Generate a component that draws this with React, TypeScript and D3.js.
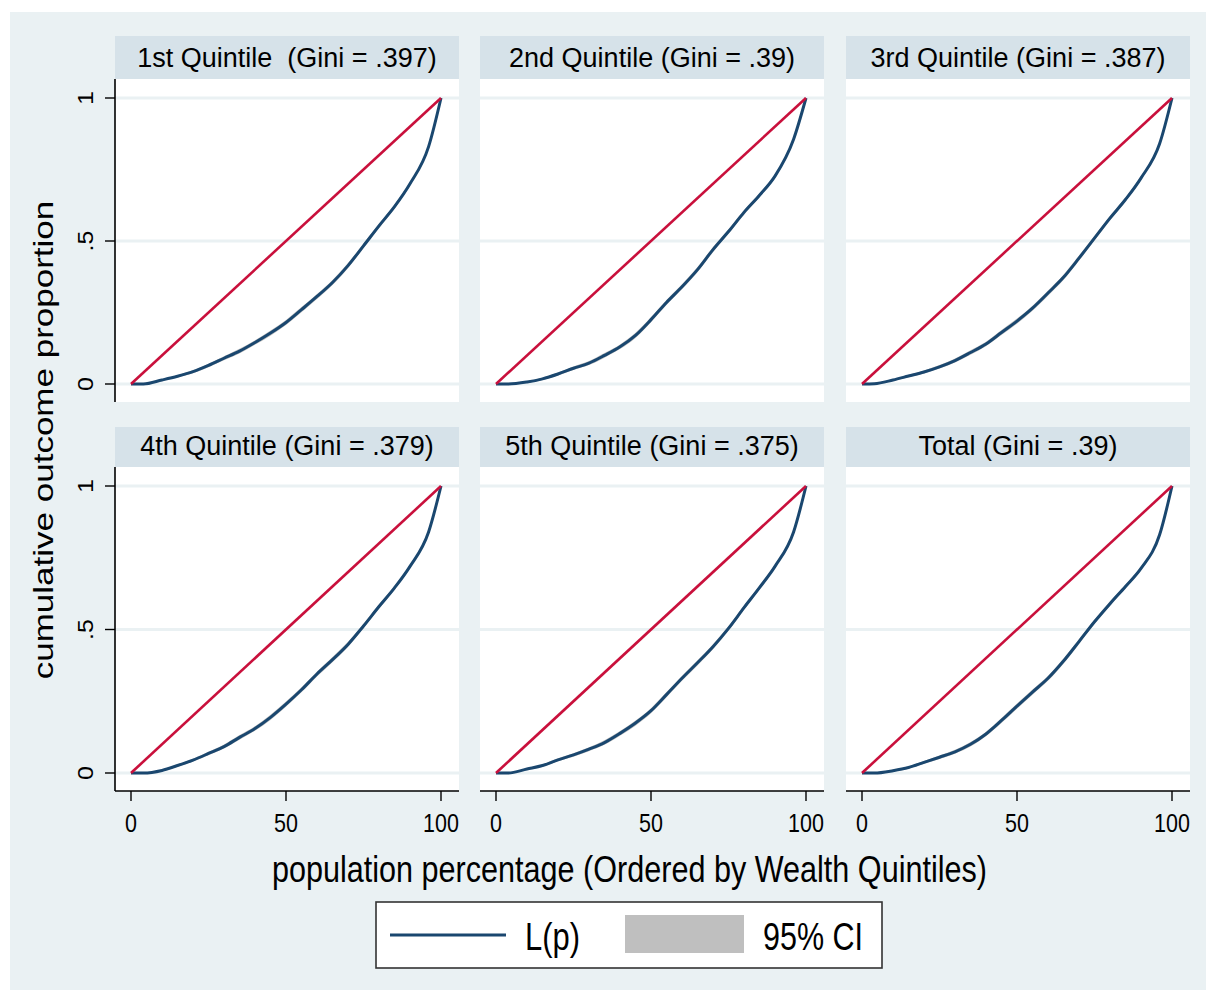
import React from 'react';
import * as d3 from 'd3';

// population percentage grid shared by every panel
const pGrid = [0, 4, 10, 15, 20, 25, 30, 35, 40, 45, 50, 55, 60, 65, 70, 75, 80, 85, 90, 96, 100];

// L(p)
const lorenzQ1 = [0, 0, 0.014, 0.027, 0.043, 0.065, 0.09, 0.115, 0.145, 0.178, 0.215, 0.26, 0.306, 0.355, 0.414, 0.483, 0.553, 0.62, 0.7, 0.83, 1];
const lorenzQ2 = [0, 0, 0.007, 0.018, 0.035, 0.055, 0.073, 0.1, 0.13, 0.17, 0.225, 0.285, 0.34, 0.4, 0.47, 0.533, 0.6, 0.66, 0.727, 0.856, 1];
const lorenzQ3 = [0, 0.001, 0.014, 0.028, 0.042, 0.06, 0.082, 0.11, 0.14, 0.18, 0.22, 0.265, 0.318, 0.373, 0.44, 0.51, 0.58, 0.645, 0.72, 0.84, 1];
const lorenzQ4 = [0, 0, 0.009, 0.026, 0.045, 0.068, 0.092, 0.124, 0.155, 0.194, 0.24, 0.29, 0.345, 0.395, 0.448, 0.512, 0.58, 0.645, 0.72, 0.84, 1];
const lorenzQ5 = [0, 0, 0.014, 0.026, 0.046, 0.063, 0.083, 0.106, 0.138, 0.174, 0.217, 0.273, 0.33, 0.384, 0.44, 0.504, 0.576, 0.646, 0.72, 0.84, 1];
const lorenzTotal = [0, 0, 0.008, 0.019, 0.037, 0.055, 0.074, 0.1, 0.136, 0.183, 0.233, 0.282, 0.33, 0.39, 0.458, 0.527, 0.59, 0.65, 0.713, 0.83, 1];

// half width of the 95% CI band (very narrow)
const ciHalf = [0, 0, 0.003, 0.004, 0.005, 0.006, 0.007, 0.008, 0.008, 0.009, 0.009, 0.009, 0.009, 0.009, 0.009, 0.008, 0.008, 0.007, 0.006, 0.004, 0];

const panelTitles = [
  '1st Quintile  (Gini = .397)',
  '2nd Quintile (Gini = .39)',
  '3rd Quintile (Gini = .387)',
  '4th Quintile (Gini = .379)',
  '5th Quintile (Gini = .375)',
  'Total (Gini = .39)',
];
const panelCurves = [lorenzQ1, lorenzQ2, lorenzQ3, lorenzQ4, lorenzQ5, lorenzTotal];

const xTicks = [0, 50, 100];
const yTicks = [0, 0.5, 1];
const yTickLabels = ['0', '.5', '1'];

const BG = '#eaf1f3';
const STRIP = '#d6e2e9';
const NAVY = '#1a476f';
const RED = '#c9103c';
const FONT = '"Liberation Sans", Arial, sans-serif';

const colLeft = [115, 480, 846];
const panelW = 344;
const rows = [
  { top: 36, stripBottom: 79, bottom: 402, titleY: 67 },
  { top: 427, stripBottom: 467, bottom: 791, titleY: 455 },
];

function Panel({ idx }: { idx: number }) {
  const col = idx % 3;
  const row = Math.floor(idx / 3);
  const r = rows[row];
  const left = colLeft[col];
  const x = d3.scaleLinear().domain([0, 100]).range([left + 16, left + 326]);
  const y = d3.scaleLinear().domain([0, 1]).range([r.bottom - 18, r.stripBottom + 19]);
  const data = pGrid.map((p, i) => ({ p, l: panelCurves[idx][i], ci: ciHalf[i] }));

  const line = d3
    .line<{ p: number; l: number }>()
    .x((d) => x(d.p))
    .y((d) => y(d.l))
    .curve(d3.curveMonotoneX);
  const band = d3
    .area<{ p: number; l: number; ci: number }>()
    .x((d) => x(d.p))
    .y0((d) => y(Math.max(0, d.l - d.ci)))
    .y1((d) => y(Math.min(1, d.l + d.ci)))
    .curve(d3.curveMonotoneX);
  const equality = d3
    .line<number>()
    .x((d) => x(d))
    .y((d) => y(d / 100));

  return (
    <g>
      <rect x={left} y={r.top} width={panelW} height={r.stripBottom - r.top} fill={STRIP} />
      <text
        x={left + panelW / 2}
        y={r.titleY}
        fontSize={27}
        textAnchor="middle"
        fontFamily={FONT}
        fill="#000"
        xmlSpace="preserve"
        style={{ whiteSpace: 'pre' }}
      >
        {panelTitles[idx]}
      </text>
      <rect x={left} y={r.stripBottom} width={panelW} height={r.bottom - r.stripBottom} fill="#fff" />
      {yTicks.map((t) => (
        <line key={t} x1={left} x2={left + panelW} y1={y(t)} y2={y(t)} stroke={BG} strokeWidth={3} />
      ))}
      <path d={band(data) || ''} fill="#c0c0c0" />
      <path d={line(data) || ''} fill="none" stroke={NAVY} strokeWidth={3} />
      <path d={equality([0, 100]) || ''} fill="none" stroke={RED} strokeWidth={2.6} />
      {col === 0 && (
        <g>
          <line x1={left} x2={left} y1={r.stripBottom} y2={r.bottom} stroke="#000" strokeWidth={1.6} />
          {yTicks.map((t, i) => (
            <g key={t}>
              <line x1={left - 10} x2={left} y1={y(t)} y2={y(t)} stroke="#000" strokeWidth={1.4} />
              <text
                transform={`translate(${left - 22},${y(t)}) scale(0.85,1) rotate(-90)`}
                fontSize={25}
                textAnchor="middle"
                fontFamily={FONT}
                fill="#000"
              >
                {yTickLabels[i]}
              </text>
            </g>
          ))}
        </g>
      )}
      {row === 1 && (
        <g>
          <line x1={left} x2={left + panelW} y1={r.bottom} y2={r.bottom} stroke="#000" strokeWidth={1.6} />
          {xTicks.map((t) => (
            <g key={t}>
              <line x1={x(t)} x2={x(t)} y1={r.bottom} y2={r.bottom + 10} stroke="#000" strokeWidth={1.4} />
              <text
                transform={`translate(${x(t)},${r.bottom + 41}) scale(0.86,1)`}
                fontSize={25}
                textAnchor="middle"
                fontFamily={FONT}
                fill="#000"
              >
                {t}
              </text>
            </g>
          ))}
        </g>
      )}
    </g>
  );
}

export default function App() {
  return (
    <svg
      width={1206}
      height={990}
      style={{ position: 'absolute', left: 0, top: 0, background: '#fff' }}
    >
      <rect x={10} y={12} width={1196} height={978} fill={BG} />
      {panelTitles.map((_, i) => (
        <Panel key={i} idx={i} />
      ))}
      <text
        transform="translate(53,440) scale(0.8,1) rotate(-90)"
        fontSize={35}
        textAnchor="middle"
        fontFamily={FONT}
        fill="#000"
      >
        cumulative outcome proportion
      </text>
      <text
        x={629.5}
        y={882}
        fontSize={37}
        textAnchor="middle"
        fontFamily={FONT}
        textLength={715}
        lengthAdjust="spacingAndGlyphs"
        fill="#000"
      >
        population percentage (Ordered by Wealth Quintiles)
      </text>
      {/* legend */}
      <rect x={376} y={902} width={506} height={66} fill="#fff" stroke="#333" strokeWidth={1.6} />
      <line x1={390} x2={506} y1={935} y2={935} stroke={NAVY} strokeWidth={3} />
      <text x={525} y={950} fontSize={38} fontFamily={FONT} textLength={55} lengthAdjust="spacingAndGlyphs" fill="#000">
        L(p)
      </text>
      <rect x={625} y={915} width={119} height={38} fill="#bfbfbf" />
      <text x={763} y={950} fontSize={38} fontFamily={FONT} textLength={100} lengthAdjust="spacingAndGlyphs" fill="#000">
        95% CI
      </text>
    </svg>
  );
}
